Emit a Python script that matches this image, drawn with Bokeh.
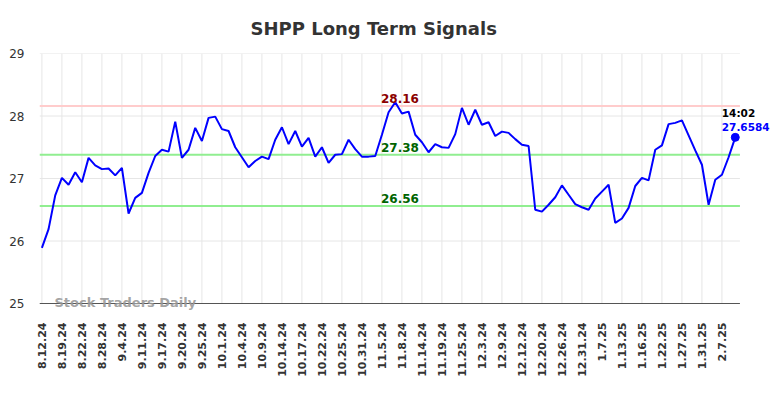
from bokeh.plotting import figure
from bokeh.models import Range1d, FixedTicker, Label
from bokeh.embed import file_html
from bokeh.resources import INLINE

title_text = "SHPP Long Term Signals"
prices = [25.89, 26.19, 26.73, 27.01, 26.90, 27.10, 26.94, 27.33, 27.21, 27.15,
          27.16, 27.05, 27.17, 26.44, 26.69, 26.77, 27.09, 27.36, 27.46, 27.43,
          27.91, 27.33, 27.46, 27.81, 27.60, 27.97, 27.99, 27.79, 27.76, 27.50,
          27.34, 27.18, 27.28, 27.35, 27.31, 27.62, 27.82, 27.55, 27.76, 27.51,
          27.65, 27.35, 27.50, 27.25, 27.38, 27.39, 27.62, 27.47, 27.35, 27.35,
          27.36, 27.70, 28.06, 28.22, 28.04, 28.07, 27.70, 27.58, 27.42, 27.55,
          27.50, 27.49, 27.71, 28.13, 27.86, 28.10, 27.86, 27.90, 27.68, 27.75,
          27.73, 27.63, 27.54, 27.52, 26.50, 26.47, 26.58, 26.70, 26.89, 26.74,
          26.59, 26.54, 26.50, 26.68, 26.79, 26.90, 26.29, 26.36, 26.53, 26.88,
          27.01, 26.97, 27.46, 27.53, 27.87, 27.89, 27.93, 27.69, 27.45, 27.22,
          26.58, 26.98, 27.06, 27.34, 27.6584]
tick_labels = ["8.12.24", "8.19.24", "8.22.24", "8.28.24", "9.4.24", "9.11.24",
               "9.17.24", "9.20.24", "9.25.24", "10.1.24", "10.4.24", "10.9.24",
               "10.14.24", "10.17.24", "10.22.24", "10.25.24", "10.31.24", "11.5.24",
               "11.8.24", "11.14.24", "11.19.24", "11.25.24", "12.3.24", "12.9.24",
               "12.12.24", "12.20.24", "12.26.24", "12.31.24", "1.7.25", "1.13.25",
               "1.16.25", "1.22.25", "1.27.25", "1.31.25", "2.7.25"]
tick_step = 3
resistance = 28.16
mid_level = 27.38
support = 26.56
last_time = "14:02"
last_value = 27.6584
y_ticks = [25, 26, 27, 28, 29]

xs = list(range(len(prices)))
ticks = [i * tick_step for i in range(len(tick_labels))]

x_lo = -0.36
x_axis_end = len(prices) - 1 + 0.7
y_lo, y_hi = 25, 29

p = figure(width=776, height=390, output_backend="svg", toolbar_location=None,
           x_range=Range1d(x_lo, x_lo + 733 / 6.667), y_range=Range1d(y_lo - 0.112, y_hi),
           min_border_left=39, min_border_right=4, min_border_top=53, min_border_bottom=80,
           frame_width=733, frame_height=257)
p.outline_line_color = None
p.background_fill_color = "white"

p.title.text = title_text
p.title.align = "left"
p.title.offset = 211
p.title.text_font = "DejaVu Sans"
p.title.text_font_size = "18px"
p.title.text_font_style = "bold"
p.title.text_color = "#333333"
p.title.standoff = 29

p.xaxis.ticker = FixedTicker(ticks=ticks)
p.xaxis.major_label_overrides = {t: l for t, l in zip(ticks, tick_labels)}
p.xaxis.major_label_orientation = 1.5707963
p.xaxis.major_label_text_font = "DejaVu Sans"
p.xaxis.major_label_text_font_size = "11px"
p.xaxis.major_label_text_font_style = "bold"
p.xaxis.major_label_text_color = "#333333"
p.xaxis.major_tick_out = 0
p.xaxis.major_tick_in = 0
p.xaxis.major_tick_line_color = None
p.xaxis.minor_tick_line_color = None
p.xaxis.major_label_standoff = 12
p.xaxis.axis_line_color = None

p.yaxis.ticker = FixedTicker(ticks=y_ticks)
p.yaxis.major_label_text_font = "DejaVu Sans"
p.yaxis.major_label_text_font_size = "12px"
p.yaxis.major_label_text_color = "#333333"
p.yaxis.axis_line_color = None
p.yaxis.major_tick_line_color = None
p.yaxis.minor_tick_line_color = None
p.yaxis.major_tick_out = 0
p.yaxis.major_tick_in = 0
p.yaxis.major_label_standoff = 15

p.xgrid.grid_line_color = None
p.ygrid.grid_line_color = None

# grid drawn as segments so it stops at the plot edges
p.segment(x0=ticks, y0=[y_lo] * len(ticks), x1=ticks, y1=[y_hi] * len(ticks),
          line_color="#e6e6e6", line_width=1)
p.segment(x0=[x_lo] * len(y_ticks), y0=y_ticks, x1=[x_axis_end] * len(y_ticks), y1=y_ticks,
          line_color="#e6e6e6", line_width=1)

levels = [resistance, mid_level, support]
level_line_colors = ["#ffcccc", "#90ee90", "#90ee90"]
level_text_colors = ["#8b0000", "#006400", "#006400"]
p.segment(x0=[x_lo] * 3, y0=levels, x1=[x_axis_end] * 3, y1=levels,
          line_color=level_line_colors, line_width=2)

# x axis baseline
p.segment(x0=[x_lo], y0=[y_lo], x1=[x_axis_end], y1=[y_lo], line_color="#555555", line_width=1)

p.line(xs, prices, line_color="#0000ff", line_width=2)
p.scatter([xs[-1]], [last_value], size=8, color="#0000ff")

peak_idx = 53.7
for lvl, col in zip(levels, level_text_colors):
    p.add_layout(Label(x=peak_idx, y=lvl, text=f"{lvl:.2f}", text_align="center",
                       text_baseline="bottom", y_offset=3, text_font="DejaVu Sans",
                       text_font_size="12px", text_font_style="bold", text_color=col))

p.add_layout(Label(x=xs[-1], y=last_value, text=last_time, text_align="left",
                   text_baseline="alphabetic", x_offset=-13.5, y_offset=24,
                   text_font="DejaVu Sans", text_font_size="10.5px",
                   text_font_style="bold", text_color="#000000"))
p.add_layout(Label(x=xs[-1], y=last_value, text=f"{last_value}", text_align="left",
                   text_baseline="alphabetic", x_offset=-13.5, y_offset=10.5,
                   text_font="DejaVu Sans", text_font_size="10.5px",
                   text_font_style="bold", text_color="#0000ff"))

p.add_layout(Label(x=15, y=8.5, x_units="screen", y_units="screen",
                   text="Stock Traders Daily", text_align="left", text_baseline="middle",
                   text_font="DejaVu Sans", text_font_size="13px", text_font_style="bold",
                   text_color="#999999", text_alpha=0.9))

open("out.html", "w").write(file_html(p, INLINE))
